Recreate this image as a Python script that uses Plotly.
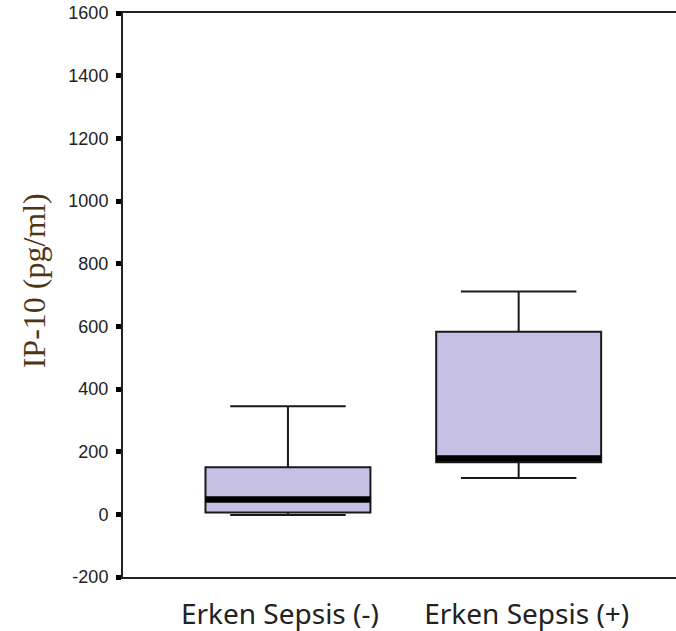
import plotly.graph_objects as go

categories = ["Erken Sepsis (-)", "Erken Sepsis (+)"]
q1_vals = [6, 166]
median_vals = [47, 178]
q3_vals = [150, 583]
lower_vals = [-2, 116]
upper_vals = [345, 711]
y_ticks = [-200, 0, 200, 400, 600, 800, 1000, 1200, 1400, 1600]

positions = list(range(len(categories)))
box_w = 0.715
fill = "#C7C0E5"

fig = go.Figure()
for i, cat in enumerate(categories):
    fig.add_trace(go.Box(
        x=[positions[i]], q1=[q1_vals[i]], median=[median_vals[i]], q3=[q3_vals[i]],
        lowerfence=[lower_vals[i]], upperfence=[upper_vals[i]],
        width=box_w, whiskerwidth=0.7, fillcolor=fill,
        line=dict(color="#1a1a1a", width=2), boxpoints=False,
        name=cat, showlegend=False, hoverinfo="skip",
    ))
    fig.add_trace(go.Scatter(
        x=[positions[i] - box_w / 2, positions[i] + box_w / 2],
        y=[median_vals[i], median_vals[i]], mode="lines",
        line=dict(color="black", width=6.5), showlegend=False, hoverinfo="skip",
    ))

fig.update_layout(
    width=676, height=631,
    margin=dict(l=123, r=0, t=13, b=54),
    plot_bgcolor="white", paper_bgcolor="white",
    xaxis=dict(
        range=[-0.715, 1.682], tickvals=[-0.035, 1.035], ticktext=categories,
        showline=True, linecolor="#222", linewidth=2, mirror=True,
        ticks="", showgrid=False, zeroline=False, ticklabelstandoff=11,
        tickfont=dict(family="Noto Sans", size=28, color="#222"),
    ),
    yaxis=dict(
        range=[-200, 1600], tickvals=y_ticks, ticktext=[str(v) for v in y_ticks],
        showline=True, linecolor="#222", linewidth=2,
        ticks="outside", ticklen=5, tickwidth=5, tickcolor="black",
        showgrid=False, zeroline=False, ticklabelstandoff=4,
        tickfont=dict(family="Liberation Sans", size=18, color="#222"),
    ),
    annotations=[dict(
        text="IP-10 (pg/ml)", textangle=-90, xref="paper", yref="paper",
        x=-0.162, y=0.525, xanchor="center", yanchor="middle", showarrow=False,
        font=dict(family="Liberation Serif", size=32, color="#4e3614"),
    )],
)

fig.write_html(
    "out.html",
    config={"displayModeBar": False},
    post_script="document.body.style.margin='0';document.body.style.overflow='hidden';",
)
